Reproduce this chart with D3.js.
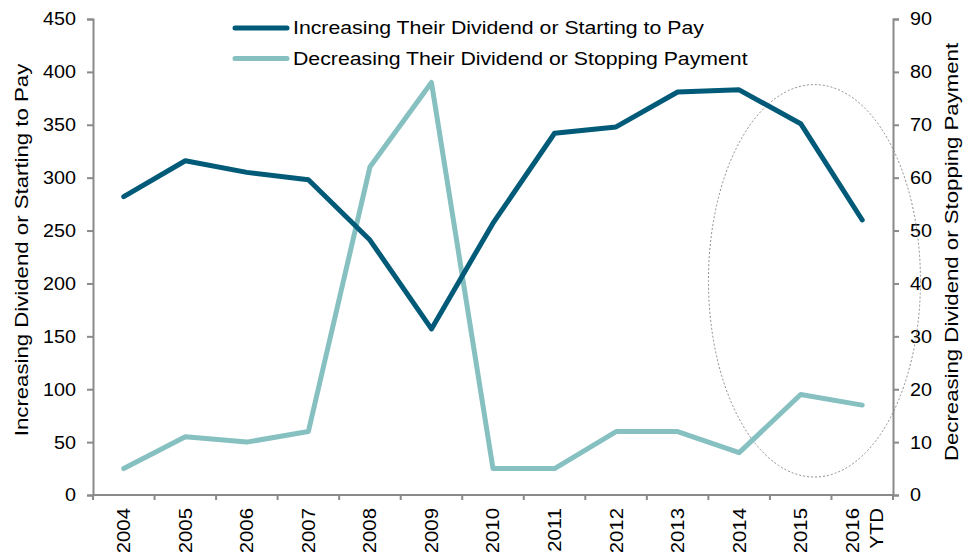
<!DOCTYPE html>
<html>
<head>
<meta charset="utf-8">
<script src="https://cdn.jsdelivr.net/npm/d3@7"></script>
<style>
  body { margin: 0; background: #fff; }
  svg text { font-family: 'Liberation Sans', Arial, sans-serif; fill: #000; }
</style>
</head>
<body>
<div id="chart"></div>
<script>
const years = ['2004', '2005', '2006', '2007', '2008', '2009', '2010', '2011', '2012', '2013', '2014', '2015', '2016 YTD'];
const increasing = [282, 316, 305, 298, 241, 157, 257, 342, 348, 381, 383, 351, 260];
const decreasing = [5, 11, 10, 12, 62, 78, 5, 5, 12, 12, 8, 19, 17];
const leftTicks = [0, 50, 100, 150, 200, 250, 300, 350, 400, 450];
const rightTicks = [0, 10, 20, 30, 40, 50, 60, 70, 80, 90];
const seriesNames = ['Increasing Their Dividend or Starting to Pay', 'Decreasing Their Dividend or Stopping Payment'];

const width = 965, height = 552;
const margin = { top: 19, right: 72, bottom: 57, left: 93 };
const dark = '#005a78', light = '#86c0c1', axisColor = '#8a8a8a';
const fontSize = '18.5px';

const svg = d3.select('#chart').append('svg')
  .attr('width', width)
  .attr('height', height);

const x = d3.scaleBand()
  .domain(years)
  .range([margin.left, width - margin.right]);
const yL = d3.scaleLinear().domain([0, 450]).range([height - margin.bottom, margin.top]);
const yR = d3.scaleLinear().domain([0, 90]).range([height - margin.bottom, margin.top]);

// x axis, ticks sit on the band edges
const xAxis = svg.append('g')
  .attr('transform', 'translate(0,' + (height - margin.bottom) + ')');
xAxis.append('line')
  .attr('x1', margin.left).attr('x2', width - margin.right)
  .attr('stroke', axisColor).attr('stroke-width', 2);
xAxis.selectAll('.tick')
  .data(years.concat(['end']))
  .enter().append('line')
  .attr('x1', (d, i) => margin.left + i * x.step())
  .attr('x2', (d, i) => margin.left + i * x.step())
  .attr('y1', 0).attr('y2', 5)
  .attr('stroke', axisColor).attr('stroke-width', 2);
xAxis.selectAll('.lbl')
  .data(years)
  .enter().append('text')
  .attr('transform', (d) => 'translate(' + (x(d) + x.bandwidth() / 2) + ',13) rotate(-90) scale(1.1,1)')
  .attr('text-anchor', 'end')
  .style('font-size', fontSize)
  .each(function (d) {
    const parts = d.split(' ');
    const t = d3.select(this);
    parts.forEach((p, i) => {
      t.append('tspan')
        .attr('x', 0)
        .attr('dy', i === 0 ? (parts.length > 1 ? '-0.2em' : '0.35em') : '1.3em')
        .text(p);
    });
  });

// left axis
const leftAxis = svg.append('g')
  .attr('transform', 'translate(' + margin.left + ',0)')
  .call(d3.axisLeft(yL).tickValues(leftTicks).tickSize(6).tickPadding(10));
leftAxis.select('.domain').attr('stroke', axisColor).attr('stroke-width', 2);
leftAxis.selectAll('.tick line').attr('stroke', axisColor).attr('stroke-width', 2);
leftAxis.selectAll('.tick text')
  .attr('fill', '#000')
  .style('font-size', fontSize)
  .style('font-family', "'Liberation Sans', Arial, sans-serif")
  .attr('transform', 'scale(1.07,1)');

// right axis
const rightAxis = svg.append('g')
  .attr('transform', 'translate(' + (width - margin.right) + ',0)')
  .call(d3.axisRight(yR).tickValues(rightTicks).tickSize(6).tickPadding(10));
rightAxis.select('.domain').attr('stroke', axisColor).attr('stroke-width', 2);
rightAxis.selectAll('.tick line').attr('stroke', axisColor).attr('stroke-width', 2);
rightAxis.selectAll('.tick text')
  .attr('fill', '#000')
  .style('font-size', fontSize)
  .style('font-family', "'Liberation Sans', Arial, sans-serif")
  .attr('transform', 'scale(1.07,1)');

// axis titles
svg.append('text')
  .attr('transform', 'translate(28,250) rotate(-90) scale(1.2,1)')
  .attr('text-anchor', 'middle')
  .style('font-size', fontSize)
  .text('Increasing Dividend or Starting to Pay');
svg.append('text')
  .attr('transform', 'translate(958,252) rotate(-90) scale(1.2,1)')
  .attr('text-anchor', 'middle')
  .style('font-size', fontSize)
  .text('Decreasing Dividend or Stopping Payment');

// dashed ellipse around 2015 - 2016
const cx = (x('2015') + x('2016 YTD') + x.bandwidth()) / 2 - 17;
svg.append('ellipse')
  .attr('cx', cx)
  .attr('cy', (yL(388) + yL(17)) / 2)
  .attr('rx', 106)
  .attr('ry', (yL(17) - yL(388)) / 2)
  .attr('fill', 'none')
  .attr('stroke', '#8c8c8c')
  .attr('stroke-width', 1)
  .attr('stroke-dasharray', '2,2');

// lines
const xc = (d) => x(d) + x.bandwidth() / 2;
svg.append('path')
  .datum(decreasing)
  .attr('fill', 'none')
  .attr('stroke', light)
  .attr('stroke-width', 5)
  .attr('stroke-linecap', 'round')
  .attr('stroke-linejoin', 'round')
  .attr('d', d3.line().x((d, i) => xc(years[i])).y((d) => yR(d)));

svg.append('path')
  .datum(increasing)
  .attr('fill', 'none')
  .attr('stroke', dark)
  .attr('stroke-width', 5)
  .attr('stroke-linecap', 'round')
  .attr('stroke-linejoin', 'round')
  .attr('d', d3.line().x((d, i) => xc(years[i])).y((d) => yL(d)));

// legend
const legend = svg.append('g').attr('transform', 'translate(235,28)');
[dark, light].forEach((c, i) => {
  const row = legend.append('g').attr('transform', 'translate(0,' + i * 30.5 + ')');
  row.append('line')
    .attr('x1', 0).attr('x2', 52)
    .attr('stroke', c).attr('stroke-width', 5)
    .attr('stroke-linecap', 'round');
  row.append('text')
    .attr('transform', 'translate(58,0) scale(1.15,1)')
    .attr('dy', '0.35em')
    .style('font-size', fontSize)
    .text(seriesNames[i]);
});
</script>
</body>
</html>
